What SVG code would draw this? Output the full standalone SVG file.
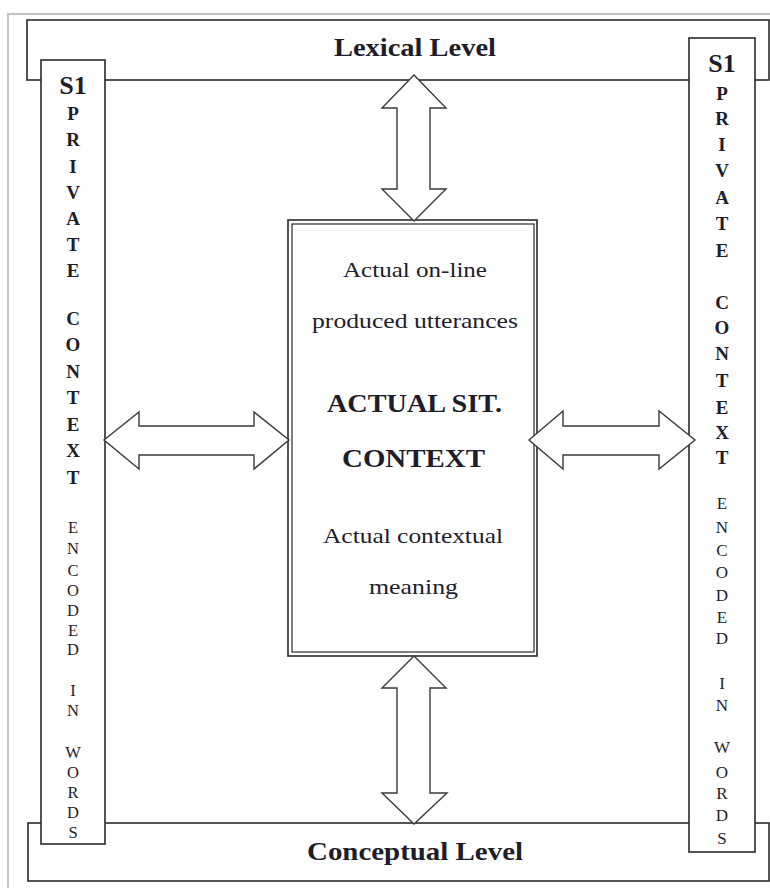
<svg xmlns="http://www.w3.org/2000/svg" width="770" height="888" viewBox="0 0 770 888">
<style>
.box{fill:#fff;stroke:#2a2a2a;stroke-width:1.6}
.frame{fill:none;stroke:#c4c4c4;stroke-width:2}
.arrow{fill:#fff;stroke:#3a3a3a;stroke-width:1.4;stroke-linejoin:miter}
.t{font-family:"Liberation Serif","Times New Roman",serif;fill:#1d1d2b;text-anchor:middle}
.head{font-size:25px;font-weight:bold}
.body{font-size:21px}
.big{font-size:25px;font-weight:bold}
.s1{font-size:26px;font-weight:bold}
.bl{font-size:19px;font-weight:bold}
.sm{font-size:16.5px}
.smr{font-size:17px}
</style>
<rect width="770" height="888" fill="#fff"/>
<polyline class="frame" points="8,888 8,14 770,14"/>

<g id="lexical-level">
<rect class="box" x="27" y="20" width="742" height="60"/>
<text class="t head" x="415" y="56" textLength="162" lengthAdjust="spacingAndGlyphs">Lexical Level</text>
</g>

<g id="conceptual-level">
<rect class="box" x="28" y="823" width="741" height="58"/>
<text class="t head" x="415" y="860" textLength="216" lengthAdjust="spacingAndGlyphs">Conceptual Level</text>
</g>

<g id="left-column">
<rect class="box" x="41" y="60" width="64" height="784"/>
<text class="t s1" x="73" y="94">S1</text>
<text class="t bl"><tspan x="73" y="119.5">P</tspan><tspan x="73" y="145.5">R</tspan><tspan x="73" y="172.5">I</tspan><tspan x="73" y="198.5">V</tspan><tspan x="73" y="224.5">A</tspan><tspan x="73" y="250.5">T</tspan><tspan x="73" y="276.5">E</tspan></text>
<text class="t bl"><tspan x="73" y="324.5">C</tspan><tspan x="73" y="351">O</tspan><tspan x="73" y="377.5">N</tspan><tspan x="73" y="404">T</tspan><tspan x="73" y="430.5">E</tspan><tspan x="73" y="457">X</tspan><tspan x="73" y="483.5">T</tspan></text>
<text class="t sm"><tspan x="73" y="532.5">E</tspan><tspan x="73" y="553.5">N</tspan><tspan x="73" y="575.5">C</tspan><tspan x="73" y="595.5">O</tspan><tspan x="73" y="615.5">D</tspan><tspan x="73" y="635.5">E</tspan><tspan x="73" y="654.5">D</tspan></text>
<text class="t sm"><tspan x="73" y="695.5">I</tspan><tspan x="73" y="715.5">N</tspan></text>
<text class="t sm"><tspan x="73" y="757.5">W</tspan><tspan x="73" y="777.5">O</tspan><tspan x="73" y="797.5">R</tspan><tspan x="73" y="817.5">D</tspan><tspan x="73" y="837.5">S</tspan></text>
</g>

<g id="right-column">
<rect class="box" x="689" y="38" width="66" height="814"/>
<text class="t s1" x="722" y="72">S1</text>
<text class="t bl"><tspan x="722" y="99.5">P</tspan><tspan x="722" y="125">R</tspan><tspan x="722" y="151">I</tspan><tspan x="722" y="177">V</tspan><tspan x="722" y="203.5">A</tspan><tspan x="722" y="229.5">T</tspan><tspan x="722" y="256.5">E</tspan></text>
<text class="t bl"><tspan x="722" y="308.5">C</tspan><tspan x="722" y="334">O</tspan><tspan x="722" y="359.5">N</tspan><tspan x="722" y="386.5">T</tspan><tspan x="722" y="413.5">E</tspan><tspan x="722" y="438.5">X</tspan><tspan x="722" y="463.5">T</tspan></text>
<text class="t smr"><tspan x="722" y="509">E</tspan><tspan x="722" y="533">N</tspan><tspan x="722" y="556">C</tspan><tspan x="722" y="578">O</tspan><tspan x="722" y="601">D</tspan><tspan x="722" y="623">E</tspan><tspan x="722" y="644">D</tspan></text>
<text class="t smr"><tspan x="722" y="689">I</tspan><tspan x="722" y="711">N</tspan></text>
<text class="t smr"><tspan x="722" y="753">W</tspan><tspan x="722" y="778">O</tspan><tspan x="722" y="799">R</tspan><tspan x="722" y="821">D</tspan><tspan x="722" y="844">S</tspan></text>
</g>

<g id="center-box">
<rect x="288" y="220" width="249" height="436" fill="#fff" stroke="#2a2a2a" stroke-width="1.6"/>
<rect x="292" y="224" width="242" height="428" fill="none" stroke="#2a2a2a" stroke-width="1.2"/>
<text class="t body" x="415" y="277" textLength="144" lengthAdjust="spacingAndGlyphs">Actual on-line</text>
<text class="t body" x="415" y="328" textLength="206" lengthAdjust="spacingAndGlyphs">produced utterances</text>
<text class="t big" x="414.5" y="412" textLength="175" lengthAdjust="spacingAndGlyphs">ACTUAL SIT.</text>
<text class="t big" x="413.5" y="467" textLength="143" lengthAdjust="spacingAndGlyphs">CONTEXT</text>
<text class="t body" x="413" y="543" textLength="180" lengthAdjust="spacingAndGlyphs">Actual contextual</text>
<text class="t body" x="413.5" y="594" textLength="89" lengthAdjust="spacingAndGlyphs">meaning</text>
</g>

<g id="connectors">
<polygon class="arrow" points="414,75 446,108 430,108 430,189 446,189 414,221 382,189 397,189 397,108 382,108"/>
<polygon class="arrow" points="414,656 446,688 430,688 430,793 447,793 414,824 382,793 397,793 397,688 382,688"/>
<polygon class="arrow" points="104,440 139,412 139,426 254,426 254,412 289,440 254,469 254,455 139,455 139,469"/>
<polygon class="arrow" points="529,440 563,411 563,426 659,426 659,411 695,440 659,469 659,455 563,455 563,469"/>
</g>
</svg>
